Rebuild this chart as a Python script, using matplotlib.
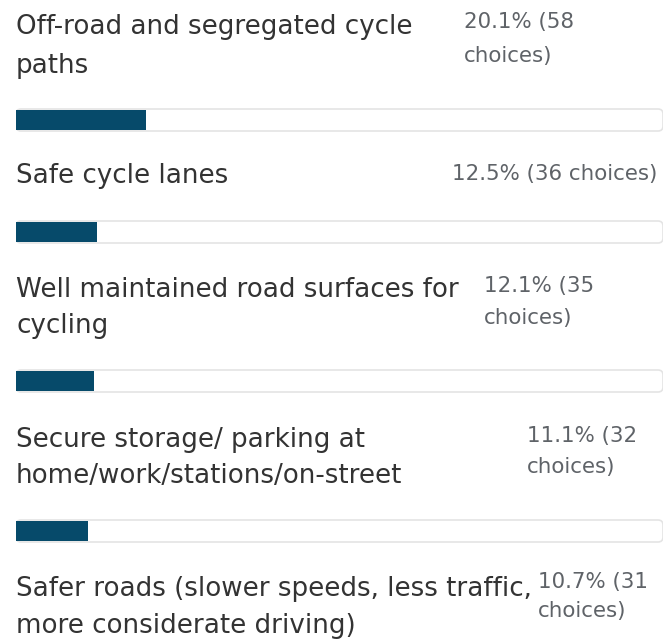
import matplotlib
matplotlib.use("Agg")
import matplotlib.pyplot as plt
from matplotlib.patches import FancyBboxPatch

labels = [
    "Off-road and segregated cycle\npaths",
    "Safe cycle lanes",
    "Well maintained road surfaces for\ncycling",
    "Secure storage/ parking at\nhome/work/stations/on-street",
    "Safer roads (slower speeds, less traffic,\nmore considerate driving)",
]
percents = [20.1, 12.5, 12.1, 11.1, 10.7]
choices = [58, 36, 35, 32, 31]
value_texts = [
    "20.1% (58\nchoices)",
    "12.5% (36 choices)",
    "12.1% (35\nchoices)",
    "11.1% (32\nchoices)",
    "10.7% (31\nchoices)",
]

# layout (pixels)
W, H = 664, 639
label_base = [[34, 73], [183], [297, 333], [447, 483], [596, 633]]
value_base = [[28, 62], [180], [292, 324], [442, 473], [588, 617]]
value_x = [464, 452, 484, 527, 538]
bar_y = [120, 232, 381, 531, None]
bar_h = 22
x0_px, x1_px = 16, 663

fig = plt.figure(figsize=(W / 100, H / 100), dpi=100)
ax = fig.add_axes([x0_px / W, 0, (x1_px - x0_px) / W, 1])
ax.set_xlim(0, 100)
ax.set_ylim(H, 0)
ax.axis("off")

px_per_unit = (x1_px - x0_px) / 100.0
def px2x(px):
    return (px - x0_px) / px_per_unit

fill_color = "#064a6a"
label_color = "#333333"
value_color = "#5f6368"

for i, (lab, p, vt) in enumerate(zip(labels, percents, value_texts)):
    for line, yb in zip(lab.split("\n"), label_base[i]):
        ax.text(0, yb, line, fontsize=18.8, family="DejaVu Sans", color=label_color,
                va="baseline", ha="left")
    for line, yb in zip(vt.split("\n"), value_base[i]):
        ax.text(px2x(value_x[i]), yb, line, fontsize=15.4, family="DejaVu Sans",
                color=value_color, va="baseline", ha="left")
    if bar_y[i] is not None:
        yc = bar_y[i]
        r = 5
        track = FancyBboxPatch((0, yc - bar_h / 2), 100, bar_h,
                               boxstyle=f"round,pad=0,rounding_size={r / px_per_unit}",
                               mutation_aspect=px_per_unit,
                               facecolor="white", edgecolor="#e4e4e4", linewidth=1.2,
                               zorder=1)
        ax.add_patch(track)
        ax.barh(yc, p, height=bar_h - 2, left=0, color=fill_color, zorder=2)

fig.savefig("out.png", dpi=100)
